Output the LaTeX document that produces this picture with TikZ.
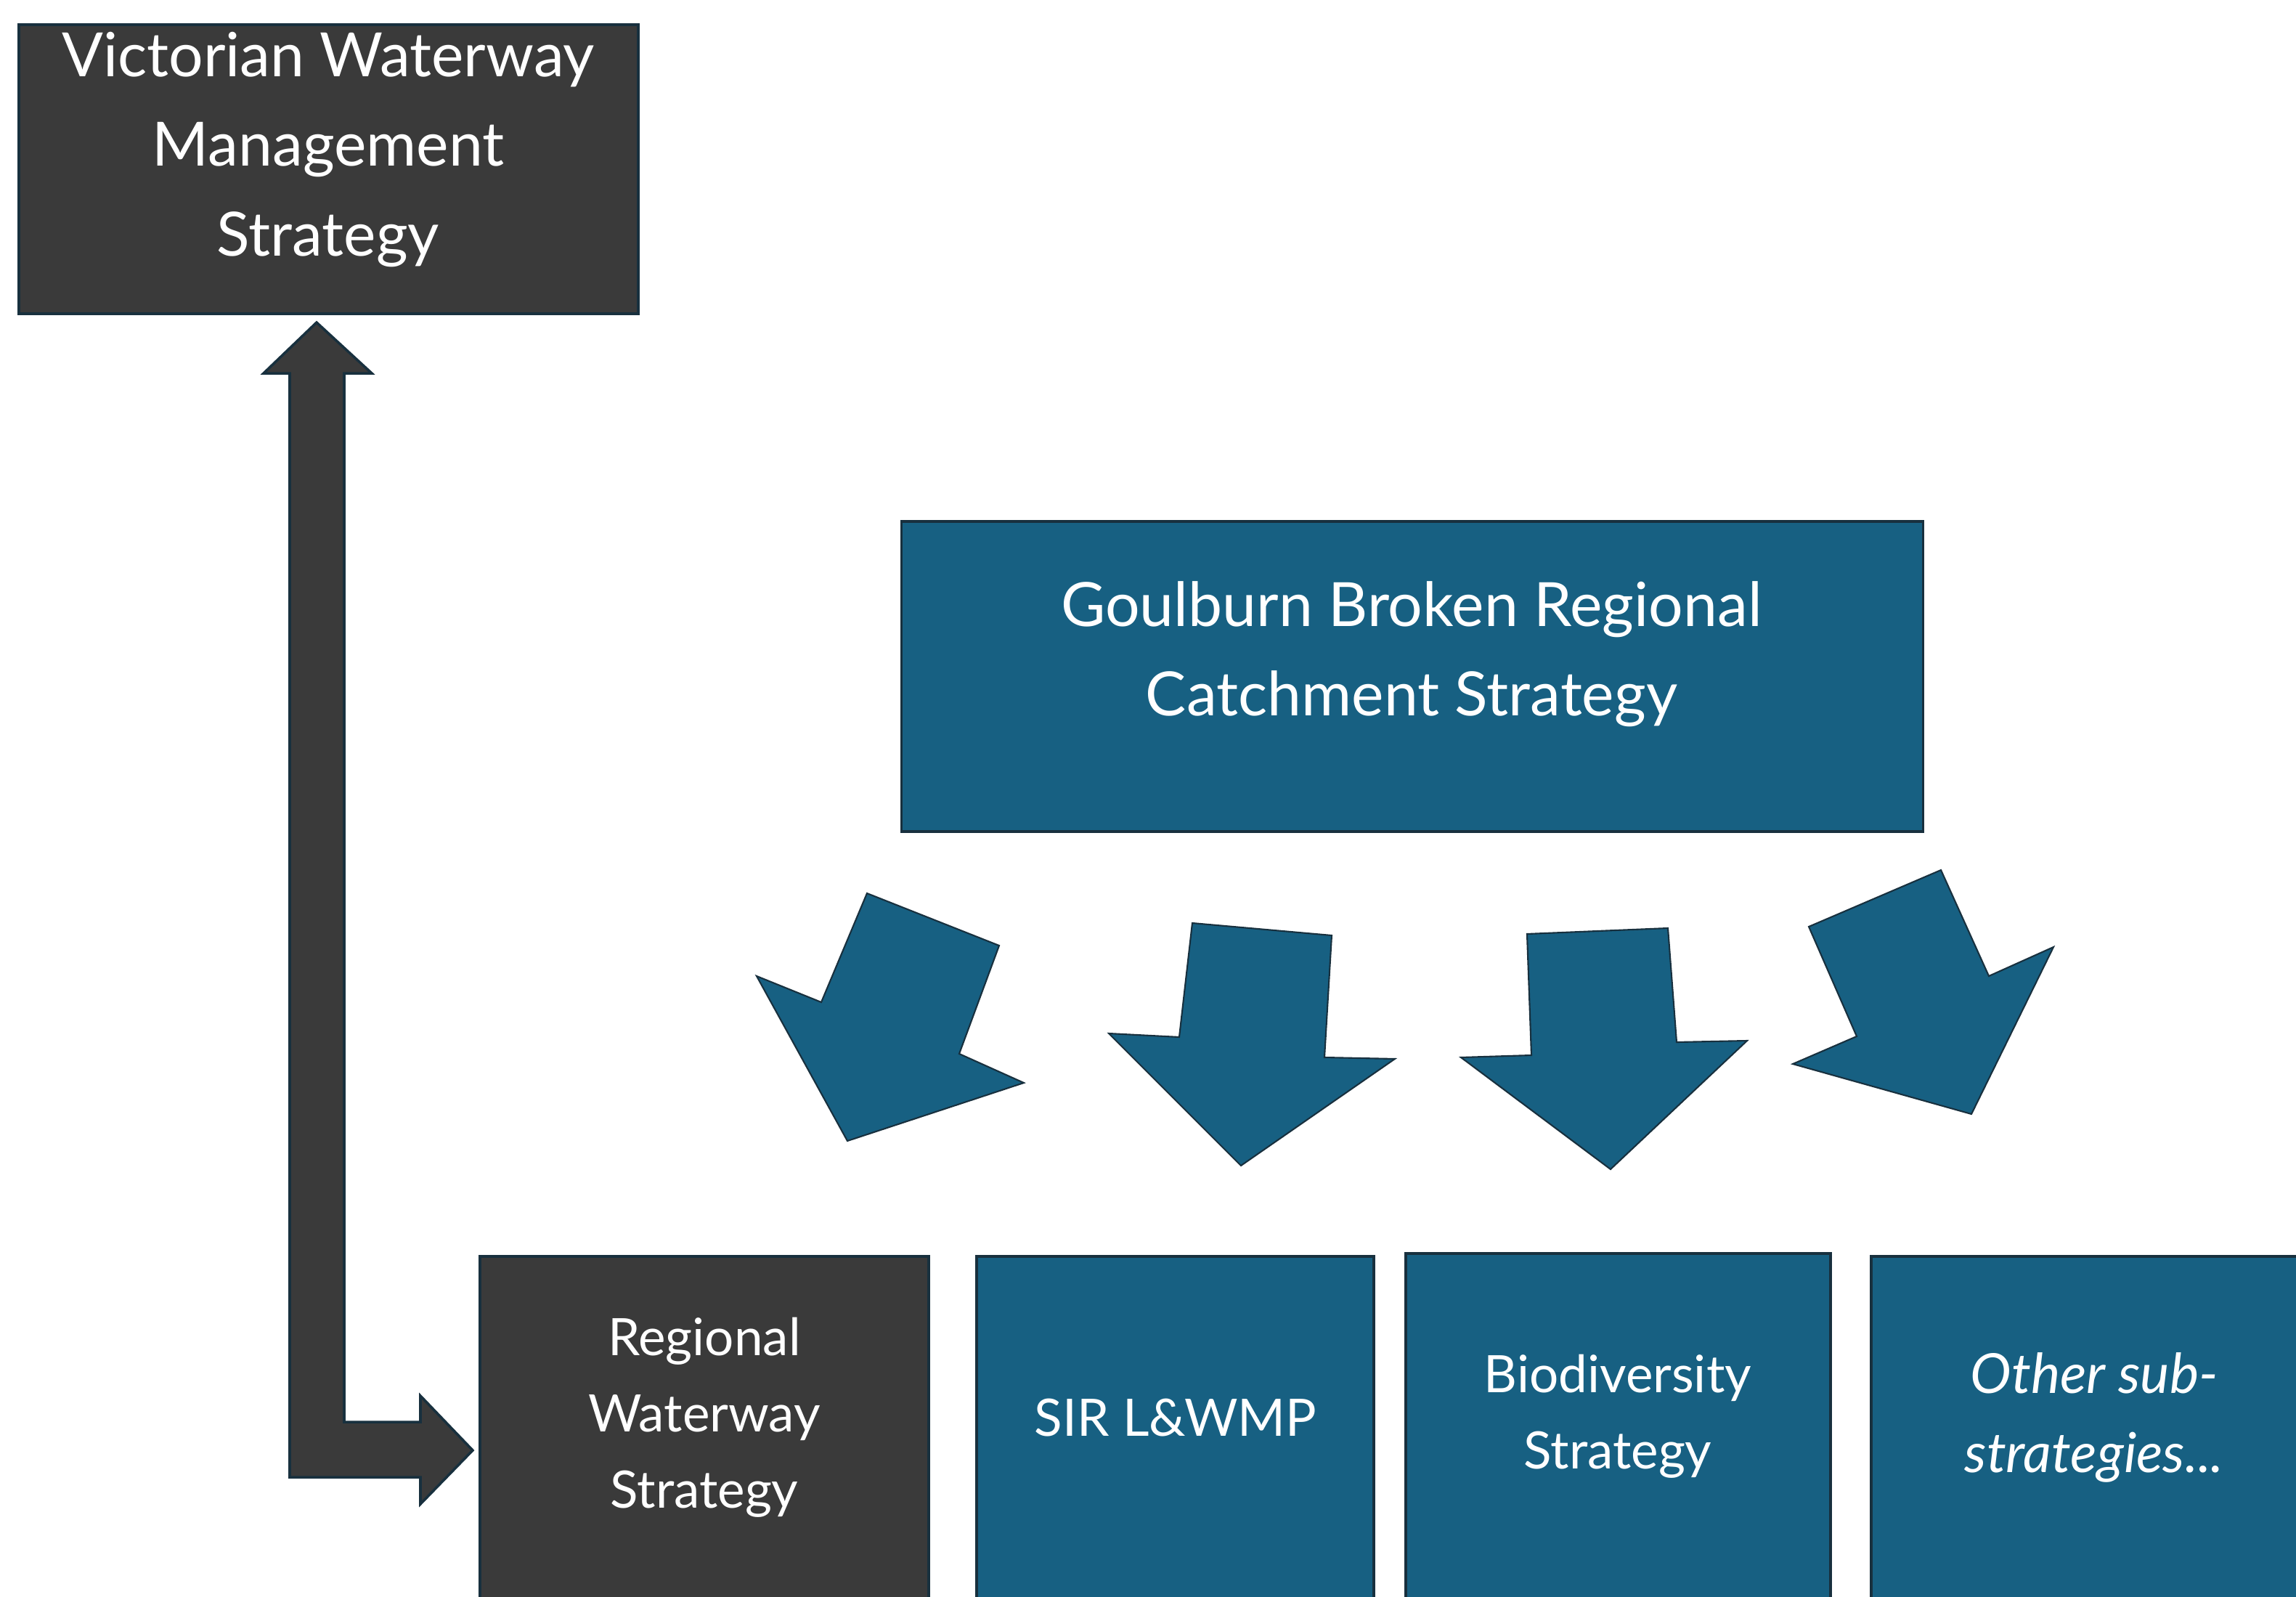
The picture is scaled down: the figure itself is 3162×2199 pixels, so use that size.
\documentclass[tikz,border=0pt]{standalone}
\usepackage{fontspec}
\setmainfont{Lato}
\definecolor{darkfill}{RGB}{58,58,58}
\definecolor{stratblue}{RGB}{23,96,130}
\definecolor{boxedge}{RGB}{24,48,62}
\begin{document}
\begin{tikzpicture}[x=0.01cm,y=-0.01cm,
  darkbox/.style={rectangle,draw=boxedge,line width=1pt,fill=darkfill,inner sep=0pt},
  bluebox/.style={rectangle,draw=boxedge,line width=1pt,fill=stratblue,inner sep=0pt},
  bigtext/.style={text=white,align=center,inner sep=0pt,font=\fontsize{23.9}{35}\selectfont},
  smalltext/.style={text=white,align=center,inner sep=0pt,font=\fontsize{20.2}{29.8}\selectfont},
  bluearrow/.style={fill=stratblue,draw=boxedge,line width=0.6pt,line join=miter},
  darkarrow/.style={fill=darkfill,draw=boxedge,line width=1pt,line join=miter}]
\useasboundingbox (0,0) rectangle (3162,2199);
\clip (0,0) rectangle (3162,2199);

% strategy boxes
\node[darkbox,minimum width=8.53cm,minimum height=3.98cm] (vwm) at (452.5,233) {};
\node[bluebox,minimum width=14.06cm,minimum height=4.27cm] (rcs) at (1945,931.5) {};
\node[darkbox,minimum width=6.18cm,minimum height=5.30cm] (rws) at (970,1995) {};
\node[bluebox,minimum width=5.47cm,minimum height=5.30cm] (sir) at (1618.5,1995) {};
\node[bluebox,minimum width=5.85cm,minimum height=5.34cm] (bio) at (2228.5,1993) {};
\node[bluebox,minimum width=6.23cm,minimum height=5.30cm] (oth) at (2888.5,1995) {};

% box texts
\node[bigtext] (vwmtext) at (452,206) {Victorian Waterway\\Management\\Strategy};
\node[bigtext] (rcstext) at (1944,901) {Goulburn Broken Regional\\Catchment Strategy};
\node[smalltext] (rwstext) at (970,1952) {Regional\\Waterway\\Strategy};
\node[smalltext] (sirtext) at (1619,1952) {SIR L\&WMP};
\node[smalltext] (biotext) at (2228,1950) {Biodiversity\\Strategy};
\node[smalltext,font=\fontsize{21.6}{30.8}\itshape] (othtext) at (2884,1952) {Other sub-\\strategies...};

% two-way bent arrow linking the waterway strategies
\path[darkarrow] (436,444) -- (512,514) -- (474,514) -- (474,1958) -- (579,1958)
  -- (579,1922) -- (651,1997) -- (579,2071) -- (579,2034) -- (399,2034)
  -- (399,514) -- (363,514) -- cycle;

% block arrows from the catchment strategy to its sub-strategies
\path[bluearrow] (1194,1230) -- (1376,1302) -- (1321,1451) -- (1410,1491)
  -- (1167,1571) -- (1042,1344) -- (1131,1380) -- cycle;
\path[bluearrow] (1642,1271) -- (1834,1288) -- (1824,1456) -- (1921,1458)
  -- (1709,1605) -- (1527,1423) -- (1624,1428) -- cycle;
\path[bluearrow] (2103,1286) -- (2297,1278) -- (2309,1435) -- (2406,1433)
  -- (2218,1610) -- (2012,1456) -- (2109,1453) -- cycle;
\path[bluearrow] (2491,1276) -- (2673,1198) -- (2739,1344) -- (2828,1304)
  -- (2715,1534) -- (2469,1465) -- (2557,1427) -- cycle;
\end{tikzpicture}
\end{document}
